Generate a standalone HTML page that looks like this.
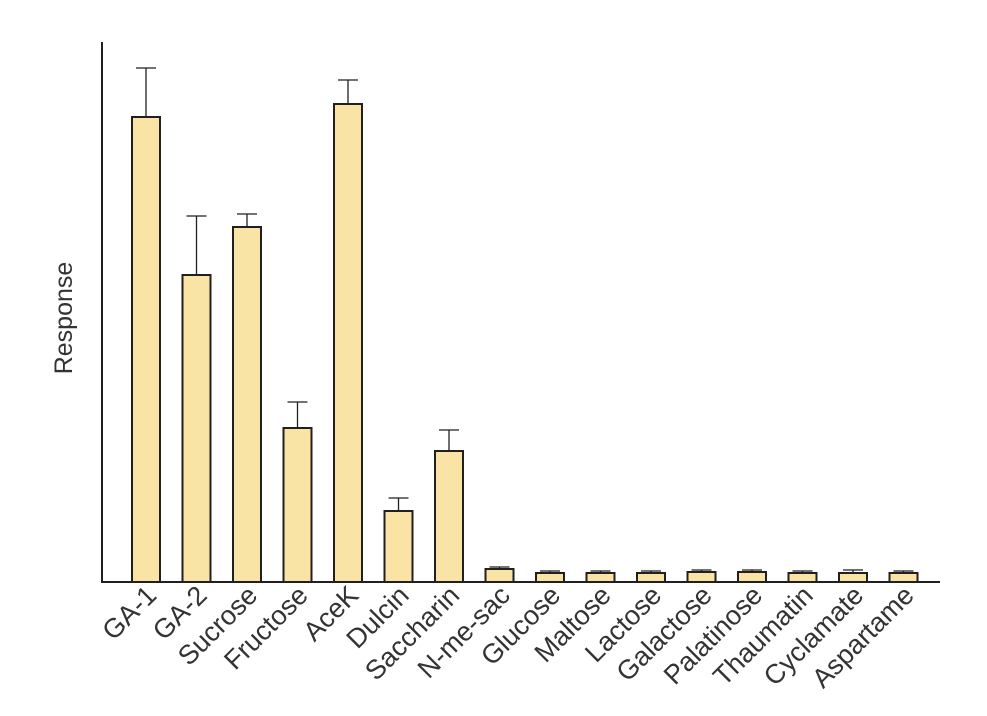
<!DOCTYPE html>
<html><head><style>body{margin:0;background:#fff}</style></head><body>
<svg width="987" height="711" xmlns="http://www.w3.org/2000/svg" font-family="Liberation Sans, sans-serif">
<rect width="987" height="711" fill="#fff"/>
<g id="bars" stroke="#231f20" stroke-width="2" fill="#f9e3a5"></g>
<g id="err" stroke="#231f20" stroke-width="1.3" fill="none"></g>
<g id="lab" font-size="27" fill="#333"></g>
<line x1="102" y1="42" x2="102" y2="583" stroke="#231f20" stroke-width="2"/>
<line x1="101" y1="582" x2="940" y2="582" stroke="#231f20" stroke-width="2"/>
<text transform="translate(72,318) rotate(-90)" text-anchor="middle" font-size="25" fill="#333">Response</text>
<script>
var names=["GA-1","GA-2","Sucrose","Fructose","AceK","Dulcin","Saccharin","N-me-sac","Glucose","Maltose","Lactose","Galactose","Palatinose","Thaumatin","Cyclamate","Aspartame"];
var tops=[117,275,227,428,104,511,451,569,573,573,573,572,572,573,573,573];
var errs=[68,216,214,402,80,498,430,567,571,571,571,570,570,571,570,571];
var ns="http://www.w3.org/2000/svg",b=document.getElementById("bars"),e=document.getElementById("err"),l=document.getElementById("lab");
for(var i=0;i<16;i++){var cx=146+i*50.5;
var r=document.createElementNS(ns,"rect");r.setAttribute("x",cx-14);r.setAttribute("y",tops[i]);r.setAttribute("width",28);r.setAttribute("height",582-tops[i]);b.appendChild(r);
var p=document.createElementNS(ns,"path");p.setAttribute("d","M"+cx+" "+tops[i]+"V"+errs[i]+"M"+(cx-10)+" "+errs[i]+"H"+(cx+10));e.appendChild(p);
var t=document.createElementNS(ns,"text");t.setAttribute("text-anchor","end");t.setAttribute("transform","translate("+(cx+12)+",597) rotate(-45)");t.textContent=names[i];l.appendChild(t);}
</script>
</svg>
</body></html>
